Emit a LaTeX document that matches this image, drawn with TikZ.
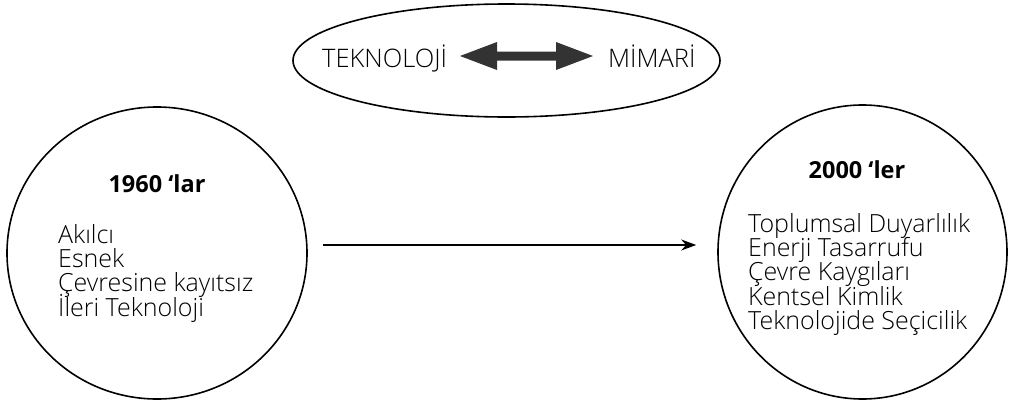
\documentclass[tikz,border=0pt]{standalone}
\usepackage{fontspec}
\newfontfamily\headfont{Open Sans}
\IfFontExistsTF{Open Sans Light}
  {\setmainfont{Open Sans Light}}
  {\setmainfont{Open Sans}}
\usetikzlibrary{shapes.geometric,arrows.meta,calc}
\begin{document}
\begin{tikzpicture}[x=1pt,y=-1pt,
  ring/.style={draw, ellipse, line width=1.6pt, inner sep=0pt},
  head/.style={font=\fontsize{23.5}{26}\headfont\bfseries, inner sep=0pt, anchor=base},
  items/.style={font={\fontsize{25}{24.3}\selectfont\lineskiplimit=-20pt}, inner sep=0pt, align=left, anchor=north west},
  word/.style={font=\fontsize{25.5}{27}\selectfont, inner sep=0pt, anchor=base west},
  flow/.style={line width=1.6pt, -{Stealth[length=15pt,width=11pt]}},
  fatarrow/.style={fill=black!80},
]
\useasboundingbox (0,0) rectangle (1010,402);

% top: technology <-> architecture
\node[ring, minimum width=427pt, minimum height=113pt] (pair) at (506.5,60.5) {};
\node[word] (tek) at (322,67) {TEKNOLOJİ};
\node[word] (mim) at (608,67) {MİMARİ};
\coordinate (L) at (460,56);
\coordinate (R) at (593,56);
\fill[fatarrow] (L) -- ++(37,-14) -- ++(0,9.5) -- ($(R)+(-37,-4.5)$) -- ++(0,-9.5)
  -- (R) -- ++(-37,14) -- ++(0,-9.5) -- ($(L)+(37,4.5)$) -- ++(0,9.5) -- cycle;

% the two periods
\node[ring, minimum width=300pt, minimum height=292pt] (past) at (157,253) {};
\node[ring, minimum width=289pt, minimum height=294pt] (now) at (862.5,252) {};

\node[head] (pasthead) at (157,192) {1960 ‘lar};
\node[head] (nowhead) at (857,178) {2000 ‘ler};

\node[items] (pastlist) at (58,224) {Akılcı\\Esnek\\Çevresine kayıtsız\\İleri Teknoloji};
\node[items] (nowlist) at (748,213) {Toplumsal Duyarlılık\\Enerji Tasarrufu\\Çevre Kaygıları\\Kentsel Kimlik\\Teknolojide Seçicilik};

\draw[flow] ([shift={(15,-8)}]past.east) -- ([shift={(-21,-7)}]now.west);
\end{tikzpicture}
\end{document}
